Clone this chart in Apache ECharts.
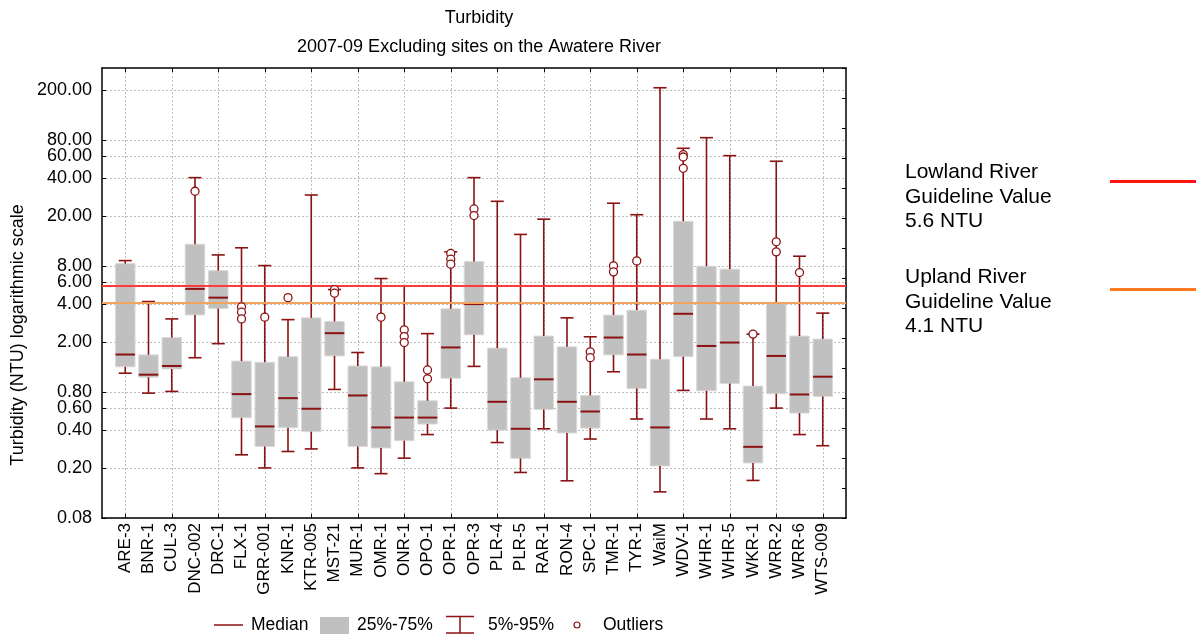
<!DOCTYPE html>
<html>
<head>
<meta charset="utf-8">
<script src="https://cdn.jsdelivr.net/npm/echarts@6/dist/echarts.min.js"></script>
<style>
  html, body { margin: 0; padding: 0; background: #ffffff; }
  #chart { width: 1196px; height: 637px; }
</style>
</head>
<body>
<div id="chart"></div>
<script>
// Monitoring sites
const categories = ['ARE-3','BNR-1','CUL-3','DNC-002','DRC-1','FLX-1','GRR-001','KNR-1','KTR-005','MST-21',
  'MUR-1','OMR-1','ONR-1','OPO-1','OPR-1','OPR-3','PLR-4','PLR-5','RAR-1','RON-4','SPC-1','TMR-1','TYR-1',
  'WaiM','WDV-1','WHR-1','WHR-5','WKR-1','WRR-2','WRR-6','WTS-009'];

// Turbidity percentiles (NTU) per site
const p5     = [1.13,0.785,0.81,1.50,1.94,0.254,0.200,0.270,0.283,0.84,0.200,0.180,0.239,0.368,0.597,1.28,0.318,0.184,0.409,0.158,0.339,1.16,0.489,0.129,0.825,0.489,0.409,0.159,0.597,0.368,0.300];
const q1     = [1.27,1.05,1.22,3.28,3.69,0.50,0.296,0.417,0.388,1.55,0.296,0.288,0.329,0.446,1.03,2.28,0.399,0.238,0.582,0.379,0.414,1.58,0.855,0.207,1.53,0.819,0.935,0.219,0.776,0.545,0.738];
const median = [1.59,1.10,1.29,5.28,4.50,0.771,0.427,0.716,0.590,2.35,0.752,0.419,0.502,0.502,1.81,4.0,0.670,0.409,1.01,0.670,0.561,2.17,1.59,0.419,3.35,1.86,1.98,0.294,1.55,0.766,1.06];
const q3     = [8.39,1.58,2.17,11.96,7.38,1.41,1.38,1.53,3.11,2.91,1.29,1.27,0.966,0.683,3.67,8.70,1.79,1.04,2.23,1.83,0.752,3.27,3.58,1.46,18.2,8.0,7.57,0.893,4.04,2.23,2.11];
const p95    = [8.86,4.19,3.05,40.4,9.83,11.2,8.09,3.01,29.4,5.22,1.65,6.38,5.58,2.33,10.4,40.4,26.2,14.3,18.9,3.11,2.20,25.3,20.5,209,69.1,83.9,60.4,2.31,54.5,9.60,3.39];

// Outliers
const outlierSites  = ['DNC-002','FLX-1','FLX-1','FLX-1','GRR-001','KNR-1','MST-21','MST-21','OMR-1','ONR-1','ONR-1','ONR-1',
  'OPO-1','OPO-1','OPR-1','OPR-1','OPR-1','OPR-3','OPR-3','SPC-1','SPC-1','TMR-1','TMR-1','TYR-1','WDV-1','WDV-1','WDV-1',
  'WKR-1','WRR-2','WRR-2','WRR-6'];
const outlierValues = [31.5,3.80,3.45,3.05,3.15,4.50,5.22,4.88,3.15,2.50,2.21,1.98,
  1.20,1.02,10.1,9.09,8.30,22.8,20.2,1.67,1.50,8.04,7.21,8.81,61.5,58.9,47.9,
  2.31,12.5,10.4,7.12];

// Guideline values
const guidelineNames  = ['Lowland River', 'Upland River'];
const guidelineValues = [5.6, 4.1];

// Y-axis tick labels
const yTicks = [0.08, 0.2, 0.4, 0.6, 0.8, 2, 4, 6, 8, 20, 40, 60, 80, 200];

const FONT = '"Liberation Sans", Arial, sans-serif';
const DARK_RED = '#8B1212';
const BOX_GREY = '#C0C0C0';
const GUIDE_PLOT = ['#FF3A3A', '#F2A35C'];
const GUIDE_KEY  = ['#FF1414', '#FF7A1E'];

// half-band padding either side of the sites
const padded = [''].concat(categories, ['']);
const oddOnly = (i) => i % 2 === 1;

const boxData = categories.map((c, i) => [i + 1, p5[i], q1[i], median[i], q3[i], p95[i]]);
const outlierData = outlierSites.map((s, i) => [categories.indexOf(s) + 1, outlierValues[i]]);

function bandWidth(api, x, v) {
  return api.coord([x + 1, v])[0] - api.coord([x, v])[0];
}

function renderBox(params, api) {
  const x = api.value(0);
  const lo = api.coord([x, api.value(2)]);
  const hi = api.coord([x, api.value(4)]);
  const w = bandWidth(api, x, api.value(3)) * 0.84;
  return {
    type: 'rect',
    shape: { x: lo[0] - w / 2, y: hi[1], width: w, height: lo[1] - hi[1] },
    style: { fill: BOX_GREY, stroke: '#DADADA', lineWidth: 1 }
  };
}

function renderWhisker(params, api) {
  const x = api.value(0);
  const pLo = api.coord([x, api.value(1)]);
  const bLo = api.coord([x, api.value(2)]);
  const med = api.coord([x, api.value(3)]);
  const bHi = api.coord([x, api.value(4)]);
  const pHi = api.coord([x, api.value(5)]);
  const bw = bandWidth(api, x, api.value(3));
  const capW = bw * 0.56;
  const boxW = bw * 0.84;
  const ls = { stroke: DARK_RED, lineWidth: 1.6 };
  const cx = pLo[0];
  return {
    type: 'group',
    children: [
      { type: 'line', shape: { x1: cx, y1: pHi[1], x2: cx, y2: bHi[1] }, style: ls },
      { type: 'line', shape: { x1: cx - capW / 2, y1: pHi[1], x2: cx + capW / 2, y2: pHi[1] }, style: ls },
      { type: 'line', shape: { x1: cx, y1: bLo[1], x2: cx, y2: pLo[1] }, style: ls },
      { type: 'line', shape: { x1: cx - capW / 2, y1: pLo[1], x2: cx + capW / 2, y2: pLo[1] }, style: ls },
      { type: 'line', shape: { x1: cx - boxW / 2, y1: med[1], x2: cx + boxW / 2, y2: med[1] },
        style: { stroke: DARK_RED, lineWidth: 2 } }
    ]
  };
}

const axisLineStyle = { show: true, lineStyle: { color: '#000', width: 1.5 } };
const gridLineStyle = { color: '#BDBDBD', width: 1, type: [2, 2] };

const chart = echarts.init(document.getElementById('chart'), null, { renderer: 'canvas' });

chart.setOption({
  animation: false,
  backgroundColor: '#ffffff',
  title: [
    { text: 'Turbidity', left: 474, top: 4, textAlign: 'center',
      textStyle: { fontFamily: FONT, fontSize: 18, fontWeight: 'normal', color: '#000' } },
    { text: '2007-09 Excluding sites on the Awatere River', left: 474, top: 33, textAlign: 'center',
      textStyle: { fontFamily: FONT, fontSize: 18, fontWeight: 'normal', color: '#000' } }
  ],
  grid: { left: 102, right: 350, top: 68, bottom: 119, containLabel: false },
  xAxis: [
    {
      type: 'category', data: padded, boundaryGap: false, position: 'bottom',
      axisLine: axisLineStyle,
      axisTick: { show: true, inside: true, length: 4, interval: oddOnly, lineStyle: { color: '#000' } },
      axisLabel: { interval: 0, rotate: 90, margin: 5, fontFamily: FONT, fontSize: 17, color: '#000' },
      splitLine: { show: true, interval: oddOnly, lineStyle: gridLineStyle }
    },
    {
      type: 'category', data: padded, boundaryGap: false, position: 'top',
      axisLine: axisLineStyle,
      axisTick: { show: true, inside: true, length: 4, interval: oddOnly, lineStyle: { color: '#000' } },
      axisLabel: { show: false },
      splitLine: { show: false }
    }
  ],
  yAxis: [
    {
      type: 'log', logBase: 10, min: 0.08, max: 300, position: 'left',
      axisLine: axisLineStyle,
      axisTick: { show: true, inside: true, length: 4, customValues: yTicks, lineStyle: { color: '#000' } },
      axisLabel: { customValues: yTicks, margin: 10, formatter: (v) => Number(v).toFixed(2),
                   fontFamily: FONT, fontSize: 18, color: '#000' },
      splitLine: { show: true, lineStyle: gridLineStyle },
      minorTick: { show: false }
    },
    {
      type: 'value', min: 0, max: 15, interval: 1, position: 'right',
      axisLine: axisLineStyle,
      axisTick: { show: true, inside: true, length: 4, lineStyle: { color: '#000' } },
      axisLabel: { show: false },
      splitLine: { show: false }
    }
  ],
  series: [
    {
      name: '25%-75%', type: 'custom', xAxisIndex: 0, yAxisIndex: 0, z: 2,
      renderItem: renderBox, data: boxData, encode: { x: 0, y: [1, 2, 3, 4, 5] }
    },
    {
      name: 'Guidelines', type: 'scatter', xAxisIndex: 0, yAxisIndex: 0, z: 3, data: [],
      markLine: {
        silent: true, symbol: 'none', label: { show: false },
        data: guidelineValues.map((v, i) => ({ yAxis: v, lineStyle: { color: GUIDE_PLOT[i], width: 2, type: 'solid' } }))
      }
    },
    {
      name: '5%-95%', type: 'custom', xAxisIndex: 0, yAxisIndex: 0, z: 4,
      renderItem: renderWhisker, data: boxData, encode: { x: 0, y: [1, 2, 3, 4, 5] }
    },
    {
      name: 'Outliers', type: 'scatter', xAxisIndex: 0, yAxisIndex: 0, z: 5,
      symbol: 'circle', symbolSize: 8, data: outlierData,
      itemStyle: { color: '#ffffff', borderColor: DARK_RED, borderWidth: 1.3, opacity: 1 }
    }
  ],
  graphic: [
    // y-axis title
    { type: 'text', x: 18, y: 335, rotation: Math.PI / 2,
      style: { text: 'Turbidity (NTU) logarithmic scale', font: '18px ' + FONT, fill: '#000',
               textAlign: 'center', textVerticalAlign: 'middle' } },
    // guideline key on the right
    { type: 'text', x: 905, y: 160,
      style: { text: guidelineNames[0] + '\nGuideline Value\n' + guidelineValues[0] + ' NTU',
               font: '21px ' + FONT, fill: '#000', lineHeight: 24.5, textVerticalAlign: 'top' } },
    { type: 'line', shape: { x1: 1110, y1: 181.5, x2: 1196, y2: 181.5 }, style: { stroke: GUIDE_KEY[0], lineWidth: 3 } },
    { type: 'text', x: 905, y: 265,
      style: { text: guidelineNames[1] + '\nGuideline Value\n' + guidelineValues[1] + ' NTU',
               font: '21px ' + FONT, fill: '#000', lineHeight: 24.5, textVerticalAlign: 'top' } },
    { type: 'line', shape: { x1: 1110, y1: 289.5, x2: 1196, y2: 289.5 }, style: { stroke: GUIDE_KEY[1], lineWidth: 3 } },
    // bottom legend
    { type: 'line', shape: { x1: 214, y1: 625, x2: 243, y2: 625 }, style: { stroke: DARK_RED, lineWidth: 1.5 } },
    { type: 'text', x: 251, y: 625, style: { text: 'Median', font: '17.5px ' + FONT, fill: '#000', textVerticalAlign: 'middle' } },
    { type: 'rect', shape: { x: 320, y: 617, width: 29, height: 17 }, style: { fill: BOX_GREY } },
    { type: 'text', x: 357, y: 625, style: { text: '25%-75%', font: '17.5px ' + FONT, fill: '#000', textVerticalAlign: 'middle' } },
    { type: 'line', shape: { x1: 446, y1: 616.5, x2: 474, y2: 616.5 }, style: { stroke: DARK_RED, lineWidth: 1.5 } },
    { type: 'line', shape: { x1: 460, y1: 616.5, x2: 460, y2: 633 }, style: { stroke: DARK_RED, lineWidth: 1.5 } },
    { type: 'line', shape: { x1: 446, y1: 633, x2: 474, y2: 633 }, style: { stroke: DARK_RED, lineWidth: 1.5 } },
    { type: 'text', x: 488, y: 625, style: { text: '5%-95%', font: '17.5px ' + FONT, fill: '#000', textVerticalAlign: 'middle' } },
    { type: 'circle', shape: { cx: 577, cy: 625, r: 3 }, style: { fill: '#fff', stroke: DARK_RED, lineWidth: 1.2 } },
    { type: 'text', x: 603, y: 625, style: { text: 'Outliers', font: '17.5px ' + FONT, fill: '#000', textVerticalAlign: 'middle' } }
  ]
});
</script>
</body>
</html>
